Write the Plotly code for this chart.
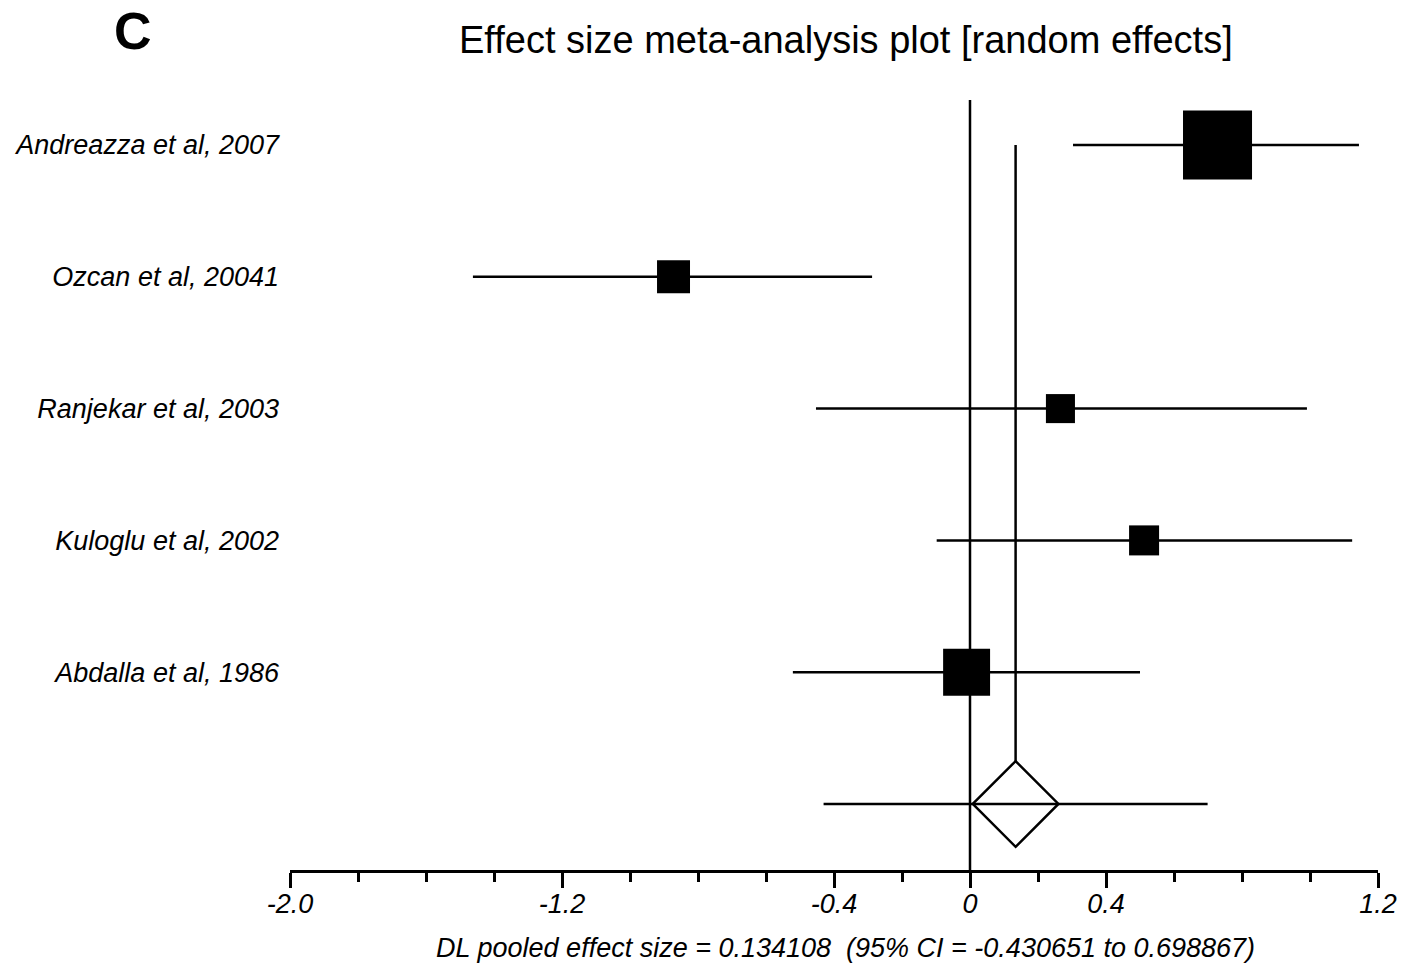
import plotly.graph_objects as go

studies = ["Andreazza et al, 2007", "Ozcan et al, 20041", "Ranjekar et al, 2003",
           "Kuloglu et al, 2002", "Abdalla et al, 1986"]
effect = [0.728, -0.872, 0.266, 0.512, -0.010]
ci_low = [0.303, -1.462, -0.453, -0.098, -0.521]
ci_high = [1.144, -0.288, 0.991, 1.124, 0.500]
weights = [48.6, 11.1, 8.6, 9.2, 22.5]   # relative weights (%)

pooled = 0.134108
pooled_low = -0.430651
pooled_high = 0.698867
diamond_halfwidth = 0.126

x_tickvals = [-2.0, -1.2, -0.4, 0, 0.4, 1.2]
x_ticktext = ["-2.0", "-1.2", "-0.4", "0", "0.4", "1.2"]

FONT = "Liberation Sans, Arial, Helvetica, sans-serif"
n = len(studies)
rows = [n - i for i in range(n)]  # 5..1, pooled at 0
pooled_row = 0
diamond_h = 0.325

fig = go.Figure()

# CI lines for studies + pooled
cx, cy = [], []
for lo, hi, r in zip(ci_low, ci_high, rows):
    cx += [lo, hi, None]
    cy += [r, r, None]
cx += [pooled_low, pooled_high]
cy += [pooled_row, pooled_row]
fig.add_trace(go.Scatter(x=cx, y=cy, mode="lines",
                         line=dict(color="black", width=2.5),
                         hoverinfo="skip", showlegend=False))

# pooled vertical line
fig.add_trace(go.Scatter(x=[pooled, pooled], y=[rows[0], pooled_row + diamond_h],
                         mode="lines", line=dict(color="black", width=2.5),
                         hoverinfo="skip", showlegend=False))

# squares
scale = 9.9
fig.add_trace(go.Scatter(x=effect, y=rows, mode="markers",
                         marker=dict(symbol="square", color="black", opacity=1,
                                     size=[scale * w ** 0.5 for w in weights],
                                     line=dict(width=0)),
                         text=studies, showlegend=False))

# diamond
fig.add_trace(go.Scatter(
    x=[pooled - diamond_halfwidth, pooled, pooled + diamond_halfwidth, pooled, pooled - diamond_halfwidth],
    y=[pooled_row, pooled_row + diamond_h, pooled_row, pooled_row - diamond_h, pooled_row],
    mode="lines", line=dict(color="black", width=2.5),
    hoverinfo="skip", showlegend=False))

# zero line
fig.add_shape(type="line", x0=0, x1=0, xref="x", y0=0, y1=1, yref="paper",
              line=dict(color="black", width=2.5), layer="above")

fig.update_layout(
    width=1403, height=966,
    margin=dict(l=290, r=25, t=100, b=96, autoexpand=False),
    plot_bgcolor="white", paper_bgcolor="white",
    font=dict(family=FONT, color="black"),
    xaxis=dict(range=[-2.0, 1.2], showgrid=False, zeroline=False, automargin=False,
               showline=True, linecolor="black", linewidth=2.5,
               tickmode="array", tickvals=x_tickvals, ticktext=x_ticktext,
               ticks="outside", ticklen=15, tickwidth=2.5, tickcolor="black",
               ticklabelstandoff=-7, ticklabeloverflow="allow",
               tickfont=dict(size=27, style="italic", family=FONT),
               minor=dict(dtick=0.2, tick0=-2.0, ticks="outside", ticklen=9,
                          tickwidth=2.5, tickcolor="black", showgrid=False)),
    yaxis=dict(range=[-0.5008, 5.3414], showgrid=False, zeroline=False, automargin=False,
               showline=False, tickmode="array", tickvals=rows, ticktext=studies,
               ticks="", ticklabelstandoff=10,
               tickfont=dict(size=27, style="italic", family=FONT)),
    annotations=[
        dict(text="Effect size meta-analysis plot [random effects]",
             xref="paper", yref="paper", x=0.511, y=1.078,
             xanchor="center", yanchor="middle", showarrow=False,
             font=dict(size=38, family=FONT)),
        dict(text="<b>C</b>", xref="paper", yref="paper", x=-0.1443, y=1.090,
             xanchor="center", yanchor="middle", showarrow=False,
             font=dict(size=52, family=FONT)),
        dict(text="DL pooled effect size = 0.134108&nbsp;&nbsp;(95% CI = -0.430651 to 0.698867)",
             xref="paper", yref="paper", x=0.511, y=-0.101,
             xanchor="center", yanchor="middle", showarrow=False,
             font=dict(size=27, style="italic", family=FONT)),
    ],
)

fig.write_html("out.html", config={"displayModeBar": False},
               post_script="document.body.style.margin='0';document.body.style.overflow='hidden';")
